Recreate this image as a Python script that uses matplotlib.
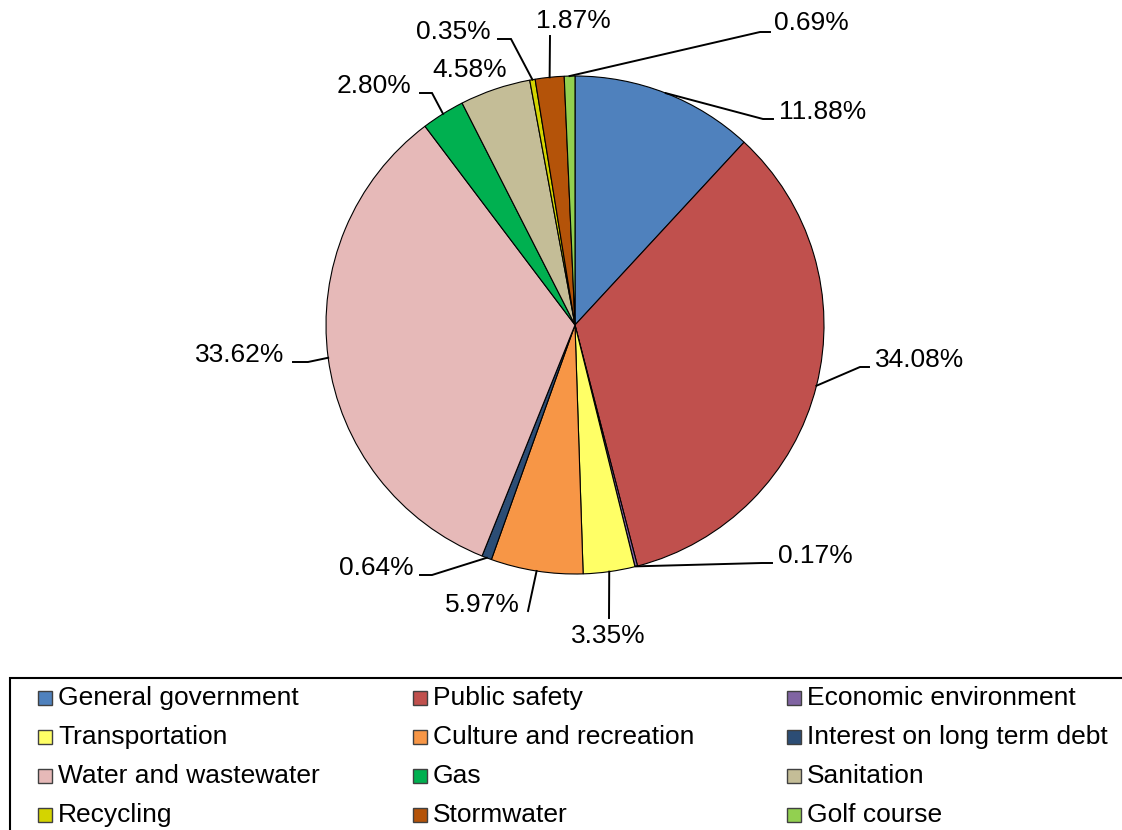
import matplotlib.pyplot as plt
from matplotlib.patches import Rectangle
import numpy as np

plt.rcParams['font.family'] = ['Liberation Sans', 'DejaVu Sans']

categories = ['General government', 'Public safety', 'Economic environment',
              'Transportation', 'Culture and recreation', 'Interest on long term debt',
              'Water and wastewater', 'Gas', 'Sanitation',
              'Recycling', 'Stormwater', 'Golf course']
shares = [11.88, 34.08, 0.17, 3.35, 5.97, 0.64, 33.62, 2.80, 4.58, 0.35, 1.87, 0.69]
colors = ['#4F81BD', '#C0504D', '#8064A2', '#FFFF66', '#F79646', '#2C4D75',
          '#E6B9B8', '#00B050', '#C4BD97', '#D4D400', '#B45309', '#92D050']

W, H = 1122, 830


def Y(y):
    # image pixel row -> axes coordinate
    return H - y


fig = plt.figure(figsize=(W / 100, H / 100), dpi=100)
ax = fig.add_axes([0, 0, 1, 1])

cx, cy, r = 575, 325, 249
wedges, _ = ax.pie(shares, colors=colors, startangle=90, counterclock=False,
                   center=(cx, Y(cy)), radius=r,
                   wedgeprops=dict(edgecolor='black', linewidth=0.8))

# leader line layout: (elbow, segment end, text anchor, ha)
label_layout = [
    ((763, 119), (773, 119), (779, 119), 'left'),
    ((860, 367), (869, 367), (875, 367), 'left'),
    ((762, 563), (772, 563), (778, 563), 'left'),
    ((609, 618), (609, 618), (608, 643), 'center'),
    ((528, 611), (528, 611), (520, 612), 'right'),
    ((432, 575), (420, 575), (414, 575), 'right'),
    ((308, 362), (293, 362), (284, 362), 'right'),
    ((432, 93), (420, 93), (411, 93), 'right'),
    (None, None, (432, 77), 'left'),
    ((511, 39), (498, 39), (491, 39), 'right'),
    ((550, 36), (550, 36), (573, 28), 'center'),
    ((760, 32), (770, 32), (774, 30), 'left'),
]

for w, val, (elbow, end, txt, ha) in zip(wedges, shares, label_layout):
    mid = np.deg2rad((w.theta1 + w.theta2) / 2)
    ex, ey = cx + r * np.cos(mid), Y(cy) + r * np.sin(mid)
    if elbow is not None:
        ax.plot([ex, elbow[0], end[0]], [ey, Y(elbow[1]), Y(end[1])],
                color='black', lw=1.4, solid_joinstyle='miter')
    ax.text(txt[0], Y(txt[1]), f'{val:.2f}%', ha=ha, va='baseline', fontsize=19)

# legend box
ax.add_patch(Rectangle((10, Y(678) - 300), 1200, 300, fill=False,
                       edgecolor='black', lw=1.5, clip_on=False))
col_x = [38, 413, 787]
for i, (name, c) in enumerate(zip(categories, colors)):
    row, col = divmod(i, 3)
    base = 705 + 39 * row
    ax.add_patch(Rectangle((col_x[col], Y(base)), 14, 14, facecolor=c,
                           edgecolor='#404040', lw=1))
    ax.text(col_x[col] + 20, Y(base), name, ha='left', va='baseline', fontsize=19)

ax.set_xlim(0, W)
ax.set_ylim(0, H)
ax.set_aspect('equal')
ax.axis('off')

fig.savefig('out.png', dpi=100)
